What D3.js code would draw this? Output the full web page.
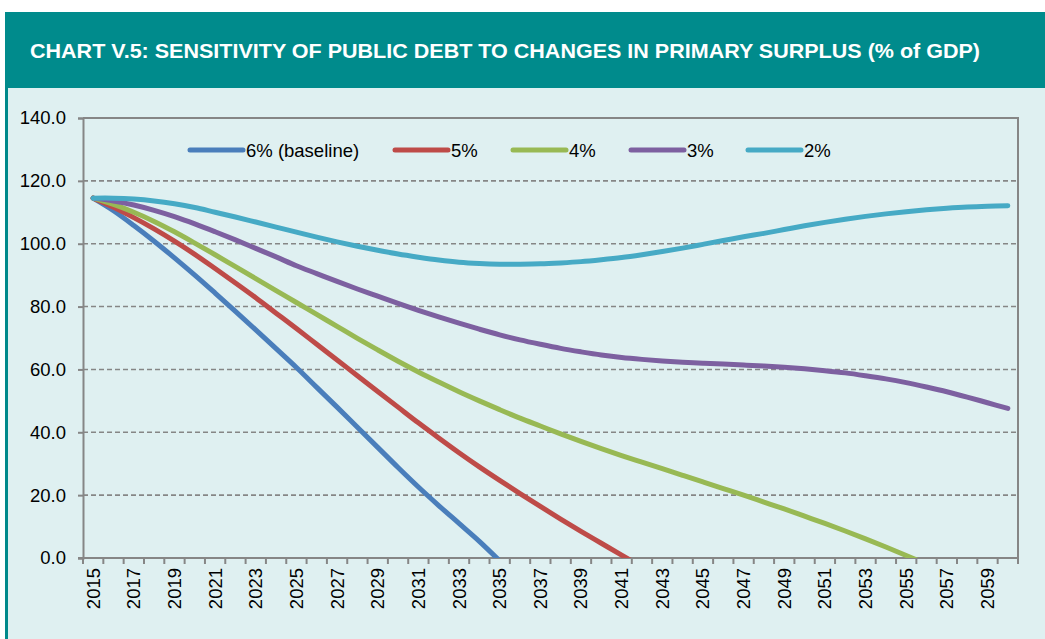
<!DOCTYPE html>
<html>
<head>
<meta charset="utf-8">
<script src="https://cdnjs.cloudflare.com/ajax/libs/d3/7.8.5/d3.min.js"></script>
<style>
  html, body { margin: 0; padding: 0; background: #ffffff; }
  svg { display: block; }
  text { font-family: "Liberation Sans", Arial, sans-serif; }
</style>
</head>
<body>
<svg id="chart" width="1045" height="639"></svg>
<script>
// Projection years (x categories)
const years = [2015, 2016, 2017, 2018, 2019, 2020, 2021, 2022, 2023, 2024,
  2025, 2026, 2027, 2028, 2029, 2030, 2031, 2032, 2033, 2034,
  2035, 2036, 2037, 2038, 2039, 2040, 2041, 2042, 2043, 2044,
  2045, 2046, 2047, 2048, 2049, 2050, 2051, 2052, 2053, 2054,
  2055, 2056, 2057, 2058, 2059, 2060];

// Public debt (% of GDP) under each primary surplus scenario
const surplus6 = [114.5, 110.5, 105.8, 100.8, 95.5, 90.0, 84.3, 78.5, 72.6, 66.6,
  60.6, 54.3, 48.0, 41.6, 35.2, 28.8, 22.6, 16.7, 11.0, 5.3, -0.9];
const surplus5 = [114.5, 111.6, 108.3, 104.7, 100.8, 96.6, 92.1, 87.5, 82.8, 77.9,
  73.0, 68.0, 63.0, 58.0, 53.0, 48.0, 43.0, 38.2, 33.5, 29.0,
  24.7, 20.5, 16.4, 12.4, 8.5, 4.7, 0.9, -2.8];
const surplus4 = [114.5, 112.5, 110.0, 107.1, 103.8, 100.2, 96.5, 92.7, 88.9, 85.1,
  81.3, 77.5, 73.7, 69.9, 66.2, 62.6, 59.2, 56.0, 52.9, 50.0,
  47.2, 44.5, 42.0, 39.5, 37.1, 34.8, 32.6, 30.5, 28.4, 26.3,
  24.2, 22.1, 20.0, 17.8, 15.6, 13.3, 11.0, 8.6, 6.1, 3.5,
  0.8, -2.0];
const surplus3 = [114.5, 113.6, 112.3, 110.6, 108.6, 106.3, 103.8, 101.2, 98.5, 95.8,
  93.0, 90.5, 88.0, 85.6, 83.3, 81.0, 78.8, 76.7, 74.7, 72.8,
  71.0, 69.4, 68.0, 66.7, 65.6, 64.6, 63.8, 63.2, 62.7, 62.3,
  62.0, 61.7, 61.4, 61.1, 60.7, 60.2, 59.6, 58.9, 58.0, 57.0,
  55.8, 54.4, 52.9, 51.2, 49.4, 47.6];
const surplus2 = [114.5, 114.5, 114.2, 113.6, 112.7, 111.5, 110.0, 108.5, 106.9, 105.3,
  103.7, 102.1, 100.6, 99.2, 97.9, 96.7, 95.7, 94.8, 94.1, 93.7,
  93.5, 93.5, 93.6, 93.9, 94.3, 94.9, 95.6, 96.5, 97.5, 98.6,
  99.8, 101.0, 102.2, 103.3, 104.5, 105.7, 106.8, 107.8, 108.7, 109.5,
  110.2, 110.8, 111.3, 111.7, 111.95, 112.1];

const seriesNames = ["6% (baseline)", "5%", "4%", "3%", "2%"];
const seriesValues = [surplus6, surplus5, surplus4, surplus3, surplus2];
const seriesColors = ["#4a7ebb", "#be4b48", "#98b954", "#7d60a0", "#46aac5"];

const yTicks = [0, 20, 40, 60, 80, 100, 120, 140];
const xLabelYears = years.filter((d, i) => i % 2 === 0);

const titleText = "CHART V.5: SENSITIVITY OF PUBLIC DEBT TO CHANGES IN PRIMARY SURPLUS (% of GDP)";

const svg = d3.select("#chart");
const W = 1045, H = 639;

// Panel background and header band
svg.append("rect").attr("x", 5).attr("y", 87).attr("width", W - 5).attr("height", H - 87)
  .attr("fill", "#dff0f1");
svg.append("rect").attr("x", 5).attr("y", 87).attr("width", 3).attr("height", H - 87)
  .attr("fill", "#00898b");
svg.append("rect").attr("x", 5).attr("y", 12).attr("width", W - 5).attr("height", 76)
  .attr("fill", "#008b8c");
svg.append("text")
  .attr("x", 30).attr("y", 57.5)
  .attr("fill", "#ffffff")
  .attr("font-family", "'Open Sans', 'DejaVu Sans', sans-serif")
  .attr("font-weight", "bold")
  .attr("font-size", 19.5)
  .attr("textLength", 950)
  .attr("lengthAdjust", "spacingAndGlyphs")
  .text(titleText);

// Plot frame
const plot = { left: 83, right: 1018, top: 118, bottom: 558 };

const x = d3.scaleBand().domain(years).range([plot.left, plot.right]).padding(0);
const y = d3.scaleLinear().domain([0, 140]).range([plot.bottom, plot.top]);
const cx = d => x(d) + x.bandwidth() / 2;

const axisColor = "#868686";

// Horizontal dashed gridlines
svg.append("g")
  .selectAll("line")
  .data(yTicks.filter(v => v > 0 && v < 140))
  .join("line")
  .attr("x1", plot.left).attr("x2", plot.right)
  .attr("y1", d => y(d)).attr("y2", d => y(d))
  .attr("stroke", axisColor)
  .attr("stroke-width", 1.6)
  .attr("stroke-dasharray", "5,3");

// Top and right border
svg.append("path")
  .attr("d", `M${plot.left},${plot.top}H${plot.right}V${plot.bottom}`)
  .attr("fill", "none")
  .attr("stroke", axisColor)
  .attr("stroke-width", 2);

// Y axis
const yAxis = d3.axisLeft(y).tickValues(yTicks).tickSize(5).tickPadding(12)
  .tickFormat(d3.format(".1f"));
const gy = svg.append("g").attr("transform", `translate(${plot.left},0)`).call(yAxis);
gy.select(".domain").attr("stroke", axisColor).attr("stroke-width", 2);
gy.selectAll(".tick line").attr("stroke", axisColor).attr("stroke-width", 2);
gy.selectAll(".tick text")
  .attr("fill", "#000")
  .attr("font-size", 18.5)
  .attr("font-family", "'Liberation Sans', Arial, sans-serif");

// X axis: ticks at category boundaries
const boundaries = years.map(d => x(d)).concat([plot.right]);
svg.append("g")
  .selectAll("line")
  .data(boundaries)
  .join("line")
  .attr("x1", d => d).attr("x2", d => d)
  .attr("y1", plot.bottom).attr("y2", plot.bottom + 6)
  .attr("stroke", axisColor)
  .attr("stroke-width", 2);
svg.append("line")
  .attr("x1", plot.left - 5).attr("x2", plot.right + 1)
  .attr("y1", plot.bottom).attr("y2", plot.bottom)
  .attr("stroke", axisColor)
  .attr("stroke-width", 2);

svg.append("g")
  .selectAll("text")
  .data(xLabelYears)
  .join("text")
  .attr("transform", d => `translate(${cx(d)},${plot.bottom + 10}) rotate(-90)`)
  .attr("text-anchor", "end")
  .attr("dominant-baseline", "central")
  .attr("font-size", 18.5)
  .attr("fill", "#000")
  .text(d => d);

// Lines, clipped to the plot area
svg.append("clipPath").attr("id", "plotClip")
  .append("rect")
  .attr("x", plot.left).attr("y", plot.top - 10)
  .attr("width", plot.right - plot.left + 10)
  .attr("height", plot.bottom - plot.top + 10);

const line = d3.line()
  .x((d, i) => cx(years[i]))
  .y(d => y(d))
  .curve(d3.curveCatmullRom.alpha(0.5));

svg.append("g")
  .attr("clip-path", "url(#plotClip)")
  .selectAll("path")
  .data(seriesValues)
  .join("path")
  .attr("d", d => line(d))
  .attr("fill", "none")
  .attr("stroke", (d, i) => seriesColors[i])
  .attr("stroke-width", 5)
  .attr("stroke-linecap", "round")
  .attr("stroke-linejoin", "round");

// Legend
const legendX = [190, 395, 513, 631, 748];
const legendY = 150;
const lg = svg.append("g");
seriesNames.forEach((name, i) => {
  lg.append("line")
    .attr("x1", legendX[i]).attr("x2", legendX[i] + 53)
    .attr("y1", legendY).attr("y2", legendY)
    .attr("stroke", seriesColors[i])
    .attr("stroke-width", 5)
    .attr("stroke-linecap", "round");
  lg.append("text")
    .attr("x", legendX[i] + 56).attr("y", legendY)
    .attr("dominant-baseline", "central")
    .attr("font-size", 18.5)
    .attr("fill", "#000")
    .text(name);
});
</script>
</body>
</html>
